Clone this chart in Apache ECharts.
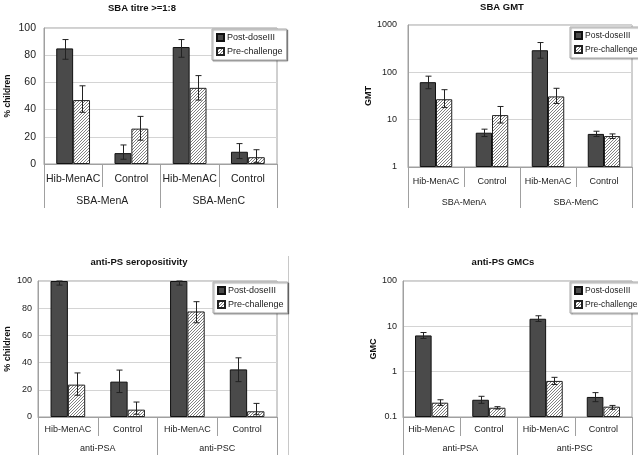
<!DOCTYPE html>
<html><head><meta charset="utf-8">
<script src="https://cdn.jsdelivr.net/npm/echarts@6/dist/echarts.min.js"></script>
<style>html,body{margin:0;padding:0;background:#fff}#c{width:638px;height:455px}</style>
</head><body><div id="c"></div>
<script>
const seriesNames = ['Post-doseIII', 'Pre-challenge'];
const subCats = ['Hib-MenAC', 'Control', 'Hib-MenAC', 'Control'];
const groupsSBA = ['SBA-MenA', 'SBA-MenC'];
const groupsPS = ['anti-PSA', 'anti-PSC'];
const titles = ['SBA titre >=1:8', 'SBA GMT', 'anti-PS seropositivity', 'anti-PS GMCs'];
const yNames = ['% children', 'GMT', '% children', 'GMC'];

// Panel 1: SBA titre >=1:8 (% children)
const p1Post = [85, 8, 86, 9];
const p1PostLo = [77, 3.5, 78.5, 4];
const p1PostHi = [91.5, 14, 91.5, 15];
const p1Pre = [47, 26, 56, 5];
const p1PreLo = [38, 17.5, 47, 1.2];
const p1PreHi = [57.5, 35, 65, 10.5];

// Panel 2: SBA GMT
const p2Post = [62, 5.3, 293, 5.0];
const p2PostLo = [45, 4.4, 199, 4.4];
const p2PostHi = [83, 6.3, 426, 5.7];
const p2Pre = [27, 12.5, 31, 4.5];
const p2PreLo = [18, 8.5, 22, 4.0];
const p2PreHi = [43, 19, 46, 5.0];

// Panel 3: anti-PS seropositivity (% children)
const p3Post = [100, 26, 100, 35];
const p3PostLo = [97, 18, 97, 26];
const p3PostHi = [100, 34.5, 100, 43.5];
const p3Pre = [23.8, 5.4, 77.6, 4.2];
const p3PreLo = [16, 2, 69.3, 1.7];
const p3PreHi = [32.4, 11, 84.8, 10];

// Panel 4: anti-PS GMCs
const p4Post = [6.3, 0.24, 14.7, 0.277];
const p4PostLo = [5.4, 0.2, 12.8, 0.218];
const p4PostHi = [7.3, 0.286, 17.1, 0.345];
const p4Pre = [0.207, 0.16, 0.625, 0.169];
const p4PreLo = [0.18, 0.15, 0.52, 0.148];
const p4PreHi = [0.24, 0.169, 0.75, 0.18];

const CAT_GAP = 0.42;

function hatchCanvas() {
  const c = document.createElement('canvas');
  c.width = 3; c.height = 3;
  const g = c.getContext('2d');
  g.fillStyle = '#fff'; g.fillRect(0, 0, 3, 3);
  g.fillStyle = '#808080';
  g.fillRect(0, 2, 1, 1); g.fillRect(1, 1, 1, 1); g.fillRect(2, 0, 1, 1);
  return c;
}
const hatch = { image: hatchCanvas(), repeat: 'repeat' };

const panels = [
  { grid: { left: 44, top: 28, width: 233, height: 136 }, type: 'value', min: 0, max: 100, interval: 20,
    post: p1Post, postLo: p1PostLo, postHi: p1PostHi, pre: p1Pre, preLo: p1PreLo, preHi: p1PreHi,
    groups: groupsSBA, fs: 10.5, lfs: 9, nfs: 8.5, catMargin: 10, grpMargin: 32, catTick: 23, grpTick: 44, nameGap: 32, ylMargin: 8,
    title: [142, 8], legend: [212, 29] },
  { grid: { left: 408, top: 25, width: 224, height: 142 }, type: 'log', min: 1, max: 1000,
    post: p2Post, postLo: p2PostLo, postHi: p2PostHi, pre: p2Pre, preLo: p2PreLo, preHi: p2PreHi,
    groups: groupsSBA, fs: 9, lfs: 8.5, nfs: 9, catMargin: 10, grpMargin: 31, catTick: 20, grpTick: 41, nameGap: 31, ylMargin: 11,
    title: [502, 7], legend: [570, 27] },
  { grid: { left: 38, top: 281, width: 239, height: 136 }, type: 'value', min: 0, max: 100, interval: 20,
    post: p3Post, postLo: p3PostLo, postHi: p3PostHi, pre: p3Pre, preLo: p3PreLo, preHi: p3PreHi,
    groups: groupsPS, fs: 9, lfs: 9, nfs: 9, catMargin: 8, grpMargin: 27, catTick: 19, grpTick: 40, nameGap: 26, ylMargin: 6,
    title: [139, 262], legend: [213, 282] },
  { grid: { left: 403, top: 281, width: 229, height: 136 }, type: 'log', min: 0.1, max: 100, startValue: 0.1,
    post: p4Post, postLo: p4PostLo, postHi: p4PostHi, pre: p4Pre, preLo: p4PreLo, preHi: p4PreHi,
    groups: groupsPS, fs: 9, lfs: 8.5, nfs: 9, catMargin: 8, grpMargin: 27, catTick: 19, grpTick: 40, nameGap: 25, ylMargin: 6,
    title: [503, 262], legend: [570, 282] }
];

const AX = '#a0a0a0';
const FONT = '"Liberation Sans", Arial, sans-serif';

function errRender(side) {
  return function (params, api) {
    const x = api.value(0);
    const pLo = api.coord([x, api.value(1)]);
    const pHi = api.coord([x, api.value(2)]);
    const band = params.coordSys.width / 4;
    const bw = band * (1 - CAT_GAP) / 2;
    const cx = Math.round(pLo[0] + (side === 0 ? -bw / 2 : bw / 2)) + 0.5;
    const cap = 3;
    const st = { stroke: '#222', lineWidth: 1 };
    return {
      type: 'group', children: [
        { type: 'line', shape: { x1: cx, y1: pLo[1], x2: cx, y2: pHi[1] }, style: st },
        { type: 'line', shape: { x1: cx - cap, y1: pLo[1], x2: cx + cap, y2: pLo[1] }, style: st },
        { type: 'line', shape: { x1: cx - cap, y1: pHi[1], x2: cx + cap, y2: pHi[1] }, style: st }
      ]
    };
  };
}

const option = { animation: false, backgroundColor: '#fff', textStyle: { fontFamily: FONT },
  grid: [], xAxis: [], yAxis: [], series: [], legend: [], graphic: [] };

panels.forEach((p, k) => {
  option.grid.push(Object.assign({ show: true, borderColor: AX, borderWidth: 1, backgroundColor: 'transparent' }, p.grid));
  option.xAxis.push({
    type: 'category', gridIndex: k, data: subCats, position: 'bottom',
    axisLine: { lineStyle: { color: AX } },
    axisTick: { show: true, interval: 0, length: p.catTick, lineStyle: { color: AX } },
    axisLabel: { interval: 0, margin: p.catMargin, color: '#222', fontSize: p.fs, fontFamily: FONT }
  });
  option.xAxis.push({
    type: 'category', gridIndex: k, data: p.groups, position: 'bottom', offset: 0,
    axisLine: { show: false },
    axisTick: { show: true, interval: 0, length: p.grpTick, lineStyle: { color: AX } },
    axisLabel: { interval: 0, margin: p.grpMargin, color: '#222', fontSize: p.fs, fontFamily: FONT }
  });
  const y = {
    type: p.type, gridIndex: k, min: p.min, max: p.max,
    name: yNames[k], nameLocation: 'middle', nameGap: p.nameGap,
    nameTextStyle: { fontWeight: 'bold', fontSize: p.nfs, color: '#111', fontFamily: FONT },
    axisLine: { show: true, lineStyle: { color: AX } },
    axisTick: { show: false },
    axisLabel: { color: '#222', fontSize: p.fs, margin: p.ylMargin, fontFamily: FONT,
      formatter: (v) => String(v) },
    splitLine: { lineStyle: { color: '#d4d4d4' } }
  };
  if (p.interval) y.interval = p.interval;
  if (p.type === 'log') { y.logBase = 10; }
  if (p.startValue) y.startValue = p.startValue;
  option.yAxis.push(y);

  const barStyle0 = { color: '#4a4a4a', borderColor: '#111', borderWidth: 1 };
  const barStyle1 = { color: hatch, borderColor: '#222', borderWidth: 1 };
  option.series.push({ type: 'bar', name: seriesNames[0], xAxisIndex: 2 * k, yAxisIndex: k, data: p.post,
    barCategoryGap: (CAT_GAP * 100) + '%', barGap: '0%', itemStyle: barStyle0 });
  option.series.push({ type: 'bar', name: seriesNames[1], xAxisIndex: 2 * k, yAxisIndex: k, data: p.pre,
    barCategoryGap: (CAT_GAP * 100) + '%', barGap: '0%', itemStyle: barStyle1 });
  option.series.push({ type: 'custom', name: 'err-post-' + k, xAxisIndex: 2 * k, yAxisIndex: k, z: 5,
    renderItem: errRender(0), data: p.post.map((v, i) => [i, p.postLo[i], p.postHi[i]]) });
  option.series.push({ type: 'custom', name: 'err-pre-' + k, xAxisIndex: 2 * k, yAxisIndex: k, z: 5,
    renderItem: errRender(1), data: p.pre.map((v, i) => [i, p.preLo[i], p.preHi[i]]) });

  option.legend.push({
    data: seriesNames, orient: 'vertical', left: p.legend[0], top: p.legend[1],
    backgroundColor: '#fff', borderColor: '#aaa', borderWidth: 1, borderRadius: 0,
    shadowColor: 'rgba(0,0,0,0.35)', shadowOffsetX: 1, shadowOffsetY: 1, shadowBlur: 1,
    padding: [4, 4, 4, 4], itemGap: 5, itemWidth: 7, itemHeight: 7, icon: 'rect', selectedMode: false,
    textStyle: { fontSize: p.lfs, color: '#222', fontFamily: FONT, padding: [0, 0, 0, -2] }
  });

  option.graphic.push({ type: 'text', x: p.title[0], y: p.title[1], z: 10,
    style: { text: titles[k], fill: '#111', font: 'bold 9.5px ' + FONT, textAlign: 'center', textVerticalAlign: 'middle' } });
});

option.graphic.push({ type: 'line', shape: { x1: 288.5, y1: 256, x2: 288.5, y2: 455 }, style: { stroke: '#c8c8c8', lineWidth: 1 } });

const chart = echarts.init(document.getElementById('c'), null, { renderer: 'canvas' });
chart.setOption(option);
</script>
</body></html>
